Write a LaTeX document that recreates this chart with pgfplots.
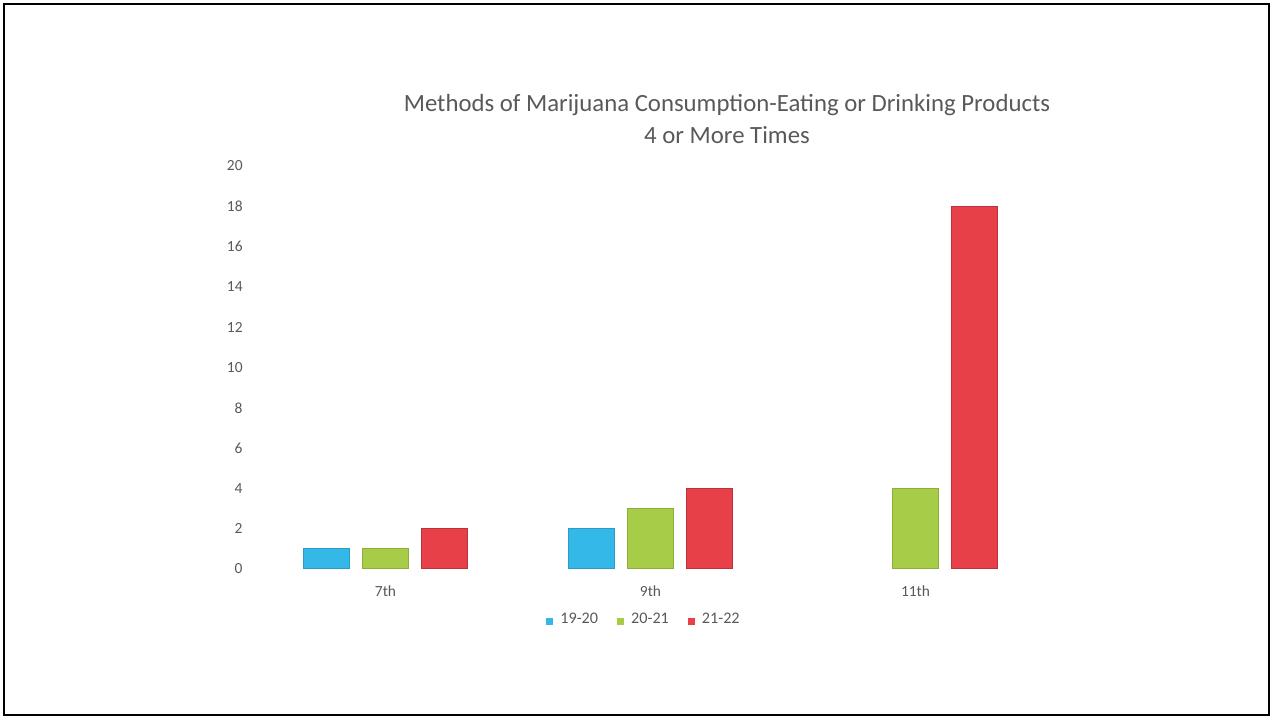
\documentclass[border=0pt]{standalone}
\usepackage{pgfplots}
\pgfplotsset{compat=1.18}
\usepackage{fontspec}
\setmainfont{Carlito}
\definecolor{cblue}{RGB}{52,184,232}
\definecolor{cgreen}{RGB}{166,204,72}
\definecolor{cred}{RGB}{232,64,72}
\definecolor{tgrey}{RGB}{89,89,89}
\begin{document}
\begin{tikzpicture}
\path[use as bounding box] (0,0) rectangle (12.73cm,7.19cm);
\draw[line width=0.8pt,black] (0.04cm,0.04cm) rectangle (12.69cm,7.15cm);
\node[text=tgrey,font=\fontsize{7.05}{8}\selectfont] at (7.27cm,6.14cm) {Methods of Marijuana Consumption-Eating or Drinking Products};
\node[text=tgrey,font=\fontsize{7.05}{8}\selectfont] at (7.27cm,5.84cm) {4 or More Times};
\begin{axis}[
  at={(2.53cm,1.50cm)}, anchor=south west,
  scale only axis, width=7.95cm, height=4.03cm,
  xmin=-0.5, xmax=2.5, ymin=0, ymax=20,
  xtick={0,1,2}, xticklabels={7th,9th,11th},
  ytick={0,2,...,20},
  axis line style={draw=none},
  major tick length=0pt,
  /pgf/number format/assume math mode=true,
  tick label style={text=tgrey,font=\fontsize{4.4}{5}\selectfont},
  yticklabel style={xshift=0.02cm},
  xticklabel style={yshift=-0.04cm},
  ybar=0.13cm, bar width=0.46cm,
  legend columns=3,
  legend style={draw=none, fill=none, at={(0.495,-0.13)}, anchor=center, font=\fontsize{4.6}{5}\selectfont, text=tgrey,
    /tikz/every even column/.append style={column sep=0.12cm}},
  legend image code/.code={\draw[#1,draw=none] (0cm,-0.035cm) rectangle (0.07cm,0.035cm);},
]
\addplot[fill=cblue, draw=cblue!85!black, line width=0.3pt] coordinates {(0,1) (1,2)};
\addplot[fill=cgreen, draw=cgreen!85!black, line width=0.3pt] coordinates {(0,1) (1,3) (2,4)};
\addplot[fill=cred, draw=cred!80!black, line width=0.3pt] coordinates {(0,2) (1,4) (2,18)};
\legend{19-20,20-21,21-22}
\end{axis}
\end{tikzpicture}
\end{document}
